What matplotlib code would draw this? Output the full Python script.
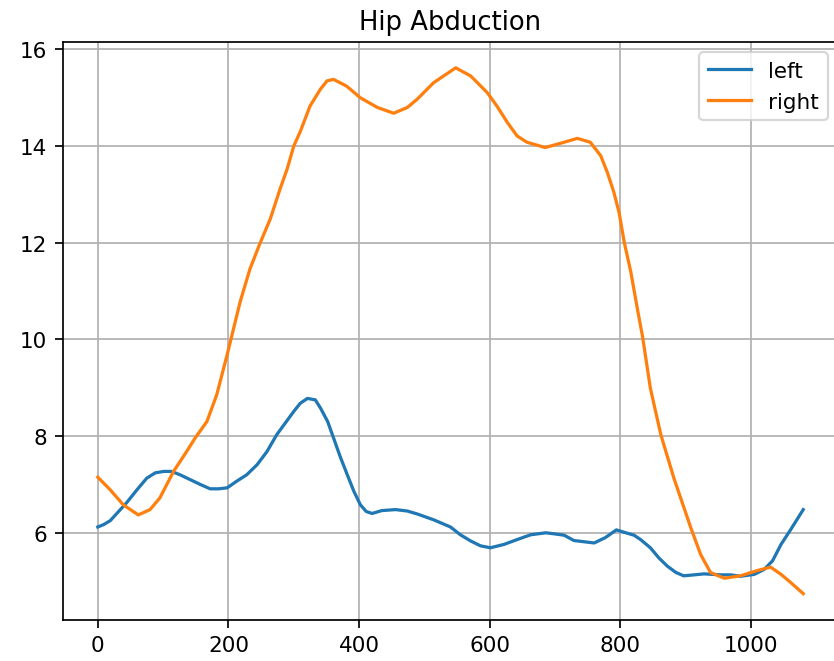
import matplotlib
matplotlib.use("Agg")
import matplotlib.pyplot as plt

# values
left_x = [0, 9, 19, 44, 60, 75, 88, 101, 113, 126, 157, 172, 185, 198, 213, 228, 244, 259, 274,
          300, 310, 321, 333, 341, 352, 361, 371, 382, 392, 402, 411, 420, 435, 456, 474, 489,
          514, 540, 555, 571, 586, 601, 622, 642, 663, 686, 698, 714, 729, 760, 777, 794, 806,
          821, 831, 846, 859, 872, 885, 897, 913, 928, 954, 969, 984, 1005, 1020, 1033, 1046,
          1061, 1080]
left_y = [6.12, 6.17, 6.25, 6.62, 6.89, 7.13, 7.24, 7.27, 7.27, 7.20, 7.00, 6.91, 6.91, 6.93, 7.07, 7.20, 7.41, 7.68, 8.03,
          8.51, 8.68, 8.78, 8.75, 8.58, 8.30, 7.96, 7.58, 7.20, 6.86, 6.58, 6.44, 6.40, 6.46, 6.48, 6.45, 6.39,
          6.27, 6.12, 5.96, 5.83, 5.73, 5.69, 5.76, 5.86, 5.96, 6.00, 5.98, 5.95, 5.84, 5.79, 5.90, 6.06, 6.01,
          5.95, 5.86, 5.69, 5.48, 5.31, 5.18, 5.11, 5.13, 5.15, 5.13, 5.13, 5.10, 5.14, 5.24, 5.42, 5.76,
          6.07, 6.48]

right_x = [0, 19, 39, 62, 80, 95, 116, 136, 149, 167, 182, 198, 208, 218, 233, 249, 264, 279, 290,
           300, 310, 325, 341, 351, 361, 381, 402, 428, 453, 474, 489, 514, 548, 571, 596, 611,
           627, 642, 657, 685, 714, 734, 754, 770, 780, 790, 798, 806, 816, 826, 834, 846, 862,
           882, 908, 923, 938, 959, 984, 1010, 1030, 1046, 1061, 1080]
right_y = [7.15, 6.89, 6.58, 6.37, 6.48, 6.72, 7.27, 7.68, 7.96, 8.30, 8.85, 9.68, 10.23, 10.78, 11.46, 12.01, 12.49, 13.11, 13.53,
           14.00, 14.30, 14.83, 15.18, 15.35, 15.38, 15.24, 15.00, 14.80, 14.68, 14.80, 14.97, 15.31, 15.62, 15.45, 15.11, 14.83,
           14.49, 14.21, 14.08, 13.97, 14.08, 14.16, 14.08, 13.80, 13.46, 13.05, 12.63, 12.01, 11.40, 10.64, 10.06, 8.99, 8.03,
           7.13, 6.10, 5.55, 5.18, 5.06, 5.11, 5.22, 5.29, 5.14, 4.97, 4.74]

W, H, DPI = 834, 662, 155
fig = plt.figure(figsize=(W / DPI, H / DPI), dpi=DPI)
# the reference is cropped on the right, so the axes run past the figure edge
ax = fig.add_axes([62.5 / W, 41 / H, (838.5 - 62.5) / W, (621 - 42.5) / H])

ax.plot(left_x, left_y, label="left")
ax.plot(right_x, right_y, label="right")
ax.set_title("Hip Abduction")
ax.grid(True)
ax.legend(loc="upper right")

fig.savefig("out.png", dpi=DPI)
